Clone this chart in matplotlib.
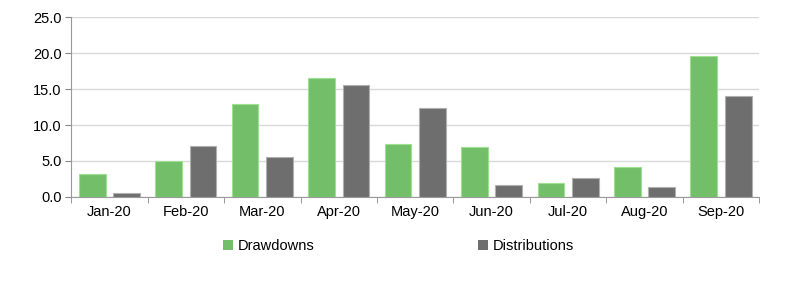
import numpy as np
import matplotlib.pyplot as plt
from matplotlib.patches import Patch

plt.rcParams['font.family'] = ['Liberation Sans', 'DejaVu Sans']

months = ['Jan-20', 'Feb-20', 'Mar-20', 'Apr-20', 'May-20', 'Jun-20', 'Jul-20', 'Aug-20', 'Sep-20']
drawdowns = [3.2, 5.0, 12.9, 16.5, 7.4, 6.9, 2.0, 4.2, 19.6]
distributions = [0.6, 7.1, 5.5, 15.6, 12.4, 1.7, 2.6, 1.4, 14.1]

green = '#73bf69'
grey = '#6e6e6e'

fig = plt.figure(figsize=(8, 2.94), dpi=100)
ax = fig.add_axes([0.089, 0.33, 0.86, 0.612])

x = np.arange(len(months))
w = 0.35
ax.bar(x - 0.225, drawdowns, w, color=green, edgecolor='#9ee090', linewidth=0.8, zorder=3)
ax.bar(x + 0.225, distributions, w, color=grey, edgecolor='#b0b0b0', linewidth=0.8, zorder=3)

ax.set_xlim(-0.5, len(months) - 0.5)
ax.set_ylim(0, 25)
ax.set_yticks(np.arange(0, 25.1, 5))
ax.set_yticklabels([f'{v:.1f}' for v in np.arange(0, 25.1, 5)])
ax.yaxis.grid(True, color='#d9d9d9', linewidth=1, zorder=0)

ax.set_xticks(x)
ax.set_xticklabels(months)
ax.set_xticks(np.arange(-0.5, len(months)), minor=True)
ax.tick_params(axis='x', which='major', length=0, pad=6, labelsize=10.5)
ax.tick_params(axis='x', which='minor', length=4, color='#888888', direction='out')
ax.tick_params(axis='y', length=4, color='#888888', labelsize=10.5, pad=3)

for s in ['top', 'right']:
    ax.spines[s].set_visible(False)
ax.spines['left'].set_color('#999999')
ax.spines['bottom'].set_color('#999999')

handles = [Patch(facecolor=green, label='Drawdowns'), Patch(facecolor=grey, label='Distributions')]
fig.legend(handles=handles, loc='center', bbox_to_anchor=(0.498, 0.163), ncol=2, frameon=False,
           handlelength=0.7, handleheight=0.7, handletextpad=0.3, columnspacing=11.2, fontsize=10.5)

fig.savefig('out.png', dpi=100)
